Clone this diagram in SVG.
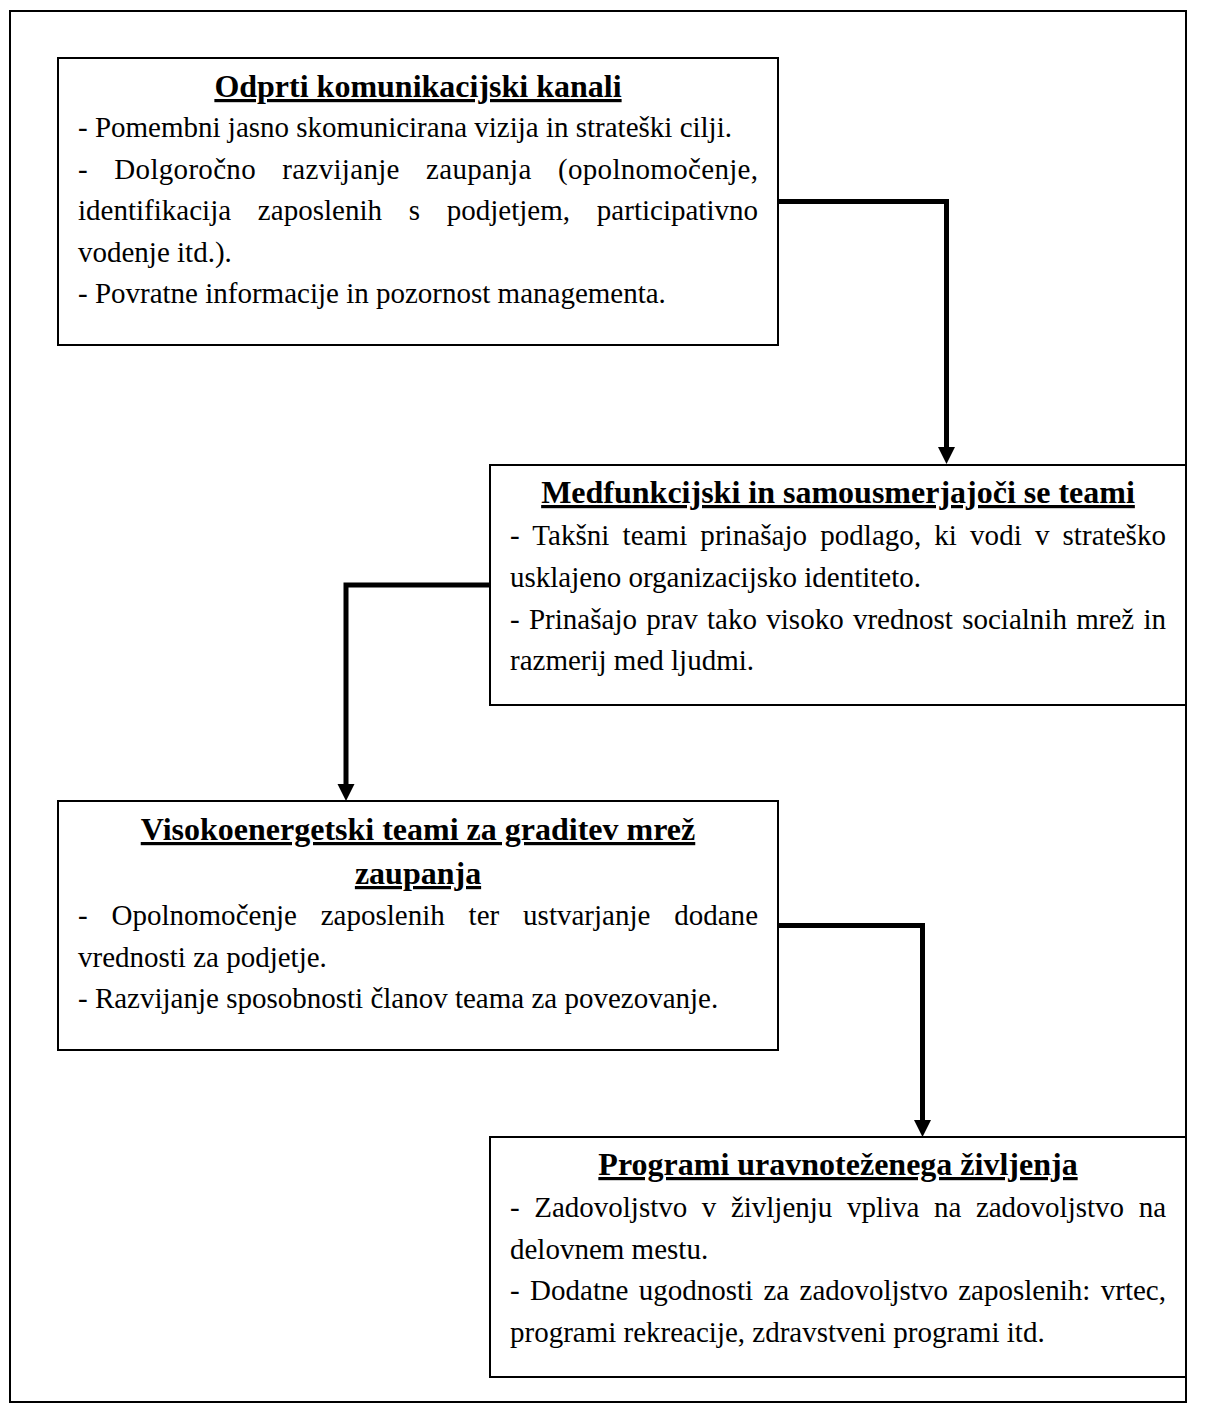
<svg xmlns="http://www.w3.org/2000/svg" width="1223" height="1428" viewBox="0 0 1223 1428">
  <style>
    .frame { fill: none; stroke: #000; stroke-width: 2; }
    .box { fill: #fff; stroke: #000; stroke-width: 2; }
    .title { font-family: "Liberation Serif", "Times New Roman", serif; font-size: 32px; font-weight: bold; text-anchor: middle; text-decoration: underline; fill: #000; }
    .body { font-family: "Liberation Serif", "Times New Roman", serif; font-size: 29px; fill: #000; }
    .link { fill: none; stroke: #000; stroke-width: 5; stroke-linejoin: miter; }
  </style>
  <defs>
    <marker id="head" markerUnits="userSpaceOnUse" markerWidth="20" markerHeight="20" refX="3" refY="8.5" orient="auto">
      <path d="M0,0 L17,8.5 L0,17 Z" fill="#000"/>
    </marker>
  </defs>

  <rect x="10" y="11" width="1176" height="1391" class="frame"/>

  <g id="connectors">
    <path class="link" d="M778,201.5 H946.5 V450" marker-end="url(#head)"/>
    <path class="link" d="M490,585 H346 V787" marker-end="url(#head)"/>
    <path class="link" d="M778,925.5 H922.5 V1123" marker-end="url(#head)"/>
  </g>

  <g id="node-kanali">
    <rect x="58" y="58" width="720" height="287" class="box"/>
    <text x="418" y="97" class="title">Odprti komunikacijski kanali</text>
    <text x="78" y="137" class="body">- Pomembni jasno skomunicirana vizija in strateški cilji.</text>
    <text x="78" y="178.5" class="body" word-spacing="18.8" textLength="680" lengthAdjust="spacing">- Dolgoročno razvijanje zaupanja (opolnomočenje,</text>
    <text x="78" y="220" class="body" word-spacing="19.5" textLength="680" lengthAdjust="spacing">identifikacija zaposlenih s podjetjem, participativno</text>
    <text x="78" y="261.5" class="body">vodenje itd.).</text>
    <text x="78" y="303" class="body">- Povratne informacije in pozornost managementa.</text>
  </g>

  <g id="node-teami">
    <rect x="490" y="465" width="696" height="240" class="box"/>
    <text x="838" y="503" class="title">Medfunkcijski in samousmerjajoči se teami</text>
    <text x="510" y="545" class="body" word-spacing="5.8" textLength="656" lengthAdjust="spacing">- Takšni teami prinašajo podlago, ki vodi v strateško</text>
    <text x="510" y="587" class="body">usklajeno organizacijsko identiteto.</text>
    <text x="510" y="629" class="body" word-spacing="2" textLength="656" lengthAdjust="spacing">- Prinašajo prav tako visoko vrednost socialnih mrež in</text>
    <text x="510" y="670" class="body">razmerij med ljudmi.</text>
  </g>

  <g id="node-mreze">
    <rect x="58" y="801" width="720" height="249" class="box"/>
    <text x="418" y="840" class="title">Visokoenergetski teami za graditev mrež</text>
    <text x="418" y="884" class="title">zaupanja</text>
    <text x="78" y="925" class="body" word-spacing="16.6" textLength="680" lengthAdjust="spacing">- Opolnomočenje zaposlenih ter ustvarjanje dodane</text>
    <text x="78" y="966.5" class="body">vrednosti za podjetje.</text>
    <text x="78" y="1008" class="body">- Razvijanje sposobnosti članov teama za povezovanje.</text>
  </g>

  <g id="node-zivljenje">
    <rect x="490" y="1137" width="696" height="240" class="box"/>
    <text x="838" y="1175" class="title">Programi uravnoteženega življenja</text>
    <text x="510" y="1217" class="body" word-spacing="7.3" textLength="656" lengthAdjust="spacing">- Zadovoljstvo v življenju vpliva na zadovoljstvo na</text>
    <text x="510" y="1258.5" class="body">delovnem mestu.</text>
    <text x="510" y="1300" class="body" word-spacing="3.1" textLength="656" lengthAdjust="spacing">- Dodatne ugodnosti za zadovoljstvo zaposlenih: vrtec,</text>
    <text x="510" y="1341.5" class="body">programi rekreacije, zdravstveni programi itd.</text>
  </g>
</svg>
